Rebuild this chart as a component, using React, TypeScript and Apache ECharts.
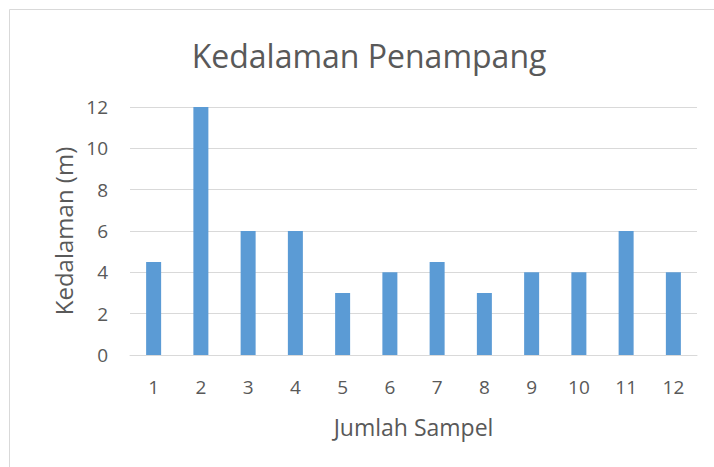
import React, { useEffect, useRef } from "react";
import * as echarts from "echarts";

const categories = ["1", "2", "3", "4", "5", "6", "7", "8", "9", "10", "11", "12"];
const depths = [4.5, 12, 6, 6, 3, 4, 4.5, 3, 4, 4, 6, 4];
const titleText = "Kedalaman Penampang";
const xName = "Jumlah Sampel";
const yName = "Kedalaman (m)";

export default function App() {
  const ref = useRef<HTMLDivElement>(null);
  useEffect(() => {
    if (!ref.current) return;
    const chart = echarts.init(ref.current, undefined, { renderer: "svg" });
    const font = "'Open Sans', sans-serif";
    chart.setOption({
      animation: false,
      backgroundColor: "#ffffff",
      title: {
        text: titleText,
        left: 364,
        textAlign: "center",
        top: 34,
        textStyle: { fontFamily: font, fontSize: 32, fontWeight: "normal", color: "#595959" },
      },
      graphic: [
        {
          type: "rect",
          shape: { x: 9.5, y: 9.5, width: 720, height: 470 },
          style: { fill: "none", stroke: "#d9d9d9", lineWidth: 1 },
          silent: true,
        },
      ],
      grid: { left: 130, right: 17, top: 107, bottom: 112 },
      xAxis: {
        type: "category",
        data: categories,
        name: xName,
        nameLocation: "middle",
        nameGap: 60,
        nameTextStyle: { fontFamily: font, fontSize: 23, color: "#595959" },
        axisLine: { show: true, lineStyle: { color: "#d9d9d9", width: 1 } },
        axisTick: { show: false },
        axisLabel: { fontFamily: font, fontSize: 19, color: "#595959", margin: 22 },
      },
      yAxis: {
        type: "value",
        min: 0,
        max: 12,
        interval: 2,
        name: yName,
        nameLocation: "middle",
        nameGap: 55,
        nameTextStyle: { fontFamily: font, fontSize: 24, color: "#595959" },
        axisLine: { show: false },
        axisTick: { show: false },
        axisLabel: { fontFamily: font, fontSize: 19, color: "#595959", margin: 22 },
        splitLine: { lineStyle: { color: "#d9d9d9", width: 1 } },
      },
      series: [
        {
          type: "bar",
          data: depths,
          barWidth: 15,
          itemStyle: { color: "#5b9bd5" },
        },
      ],
    });
    return () => chart.dispose();
  }, []);
  return (
    <div
      ref={ref}
      style={{ position: "fixed", left: 0, top: 0, width: 714, height: 467 }}
    />
  );
}
